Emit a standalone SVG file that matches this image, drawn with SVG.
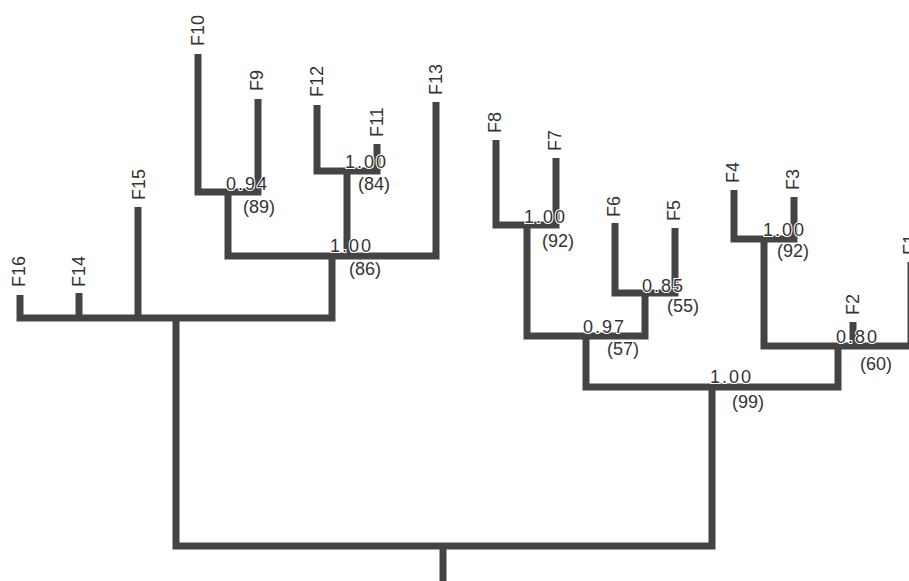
<svg xmlns="http://www.w3.org/2000/svg" width="909" height="581" viewBox="0 0 909 581">
<style>
.e{fill:none;stroke:#444;stroke-width:7;stroke-linejoin:miter;stroke-linecap:butt}
.t{font-family:"Liberation Sans",Arial,sans-serif;font-size:18px;fill:#333}
.s{font-family:"Liberation Sans",Arial,sans-serif;font-size:18px;fill:#333;letter-spacing:2px;stroke:#fff;stroke-width:2px;paint-order:stroke}
.p{font-family:"Liberation Sans",Arial,sans-serif;font-size:18px;fill:#333}
</style>
<rect width="909" height="581" fill="#fff"/>
<g id="connectors">
<path class="e" d="M20 295V318H332V256"/>
<path class="e" d="M79 293V318"/>
<path class="e" d="M138 207V318"/>
<path class="e" d="M198 54V192H258V99"/>
<path class="e" d="M228 192V256H436V102"/>
<path class="e" d="M317 105V171H377V144"/>
<path class="e" d="M347 171V256"/>
<path class="e" d="M176 318V546H712V387"/>
<path class="e" d="M443 546V581"/>
<path class="e" d="M496 140V225H556V158"/>
<path class="e" d="M527 225V336H645V293"/>
<path class="e" d="M615 223V293H675V228"/>
<path class="e" d="M586 336V387H838V346"/>
<path class="e" d="M734 190V239H794V197"/>
<path class="e" d="M764 239V346H911V262"/>
<path class="e" d="M853 322V346"/>
</g>
<g id="F16"><text class="t" transform="translate(25,287) rotate(-90)">F16</text></g>
<g id="F14"><text class="t" transform="translate(85,287) rotate(-90)">F14</text></g>
<g id="F15"><text class="t" transform="translate(145,200) rotate(-90)">F15</text></g>
<g id="F10"><text class="t" transform="translate(204,46) rotate(-90)">F10</text></g>
<g id="F9"><text class="t" transform="translate(263,91) rotate(-90)">F9</text></g>
<g id="F12"><text class="t" transform="translate(323,97) rotate(-90)">F12</text></g>
<g id="F11"><text class="t" transform="translate(383,137) rotate(-90)">F11</text></g>
<g id="F13"><text class="t" transform="translate(442,95) rotate(-90)">F13</text></g>
<g id="F8"><text class="t" transform="translate(501,133) rotate(-90)">F8</text></g>
<g id="F7"><text class="t" transform="translate(561,151) rotate(-90)">F7</text></g>
<g id="F6"><text class="t" transform="translate(620,217) rotate(-90)">F6</text></g>
<g id="F5"><text class="t" transform="translate(680,221) rotate(-90)">F5</text></g>
<g id="F4"><text class="t" transform="translate(739,183) rotate(-90)">F4</text></g>
<g id="F3"><text class="t" transform="translate(799,190) rotate(-90)">F3</text></g>
<g id="F2"><text class="t" transform="translate(859,315) rotate(-90)">F2</text></g>
<g id="F1"><text class="t" transform="translate(916,255) rotate(-90)">F1</text></g>
<g id="n94"><text class="s" x="226" y="190">0.94</text><text class="p" x="243" y="213">(89)</text></g>
<g id="n84"><text class="s" x="345" y="168">1.00</text><text class="p" x="358" y="190">(84)</text></g>
<g id="n86"><text class="s" x="330" y="252">1.00</text><text class="p" x="349" y="275">(86)</text></g>
<g id="n92a"><text class="s" x="524" y="223">1.00</text><text class="p" x="542" y="247">(92)</text></g>
<g id="n55"><text class="s" x="642" y="292">0.85</text><text class="p" x="667" y="312">(55)</text></g>
<g id="n57"><text class="s" x="583" y="333">0.97</text><text class="p" x="607" y="355">(57)</text></g>
<g id="n92b"><text class="s" x="763" y="236">1.00</text><text class="p" x="777" y="257">(92)</text></g>
<g id="n60"><text class="s" x="836" y="343">0.80</text><text class="p" x="860" y="370">(60)</text></g>
<g id="n99"><text class="s" x="710" y="383">1.00</text><text class="p" x="732" y="408">(99)</text></g>
</svg>
